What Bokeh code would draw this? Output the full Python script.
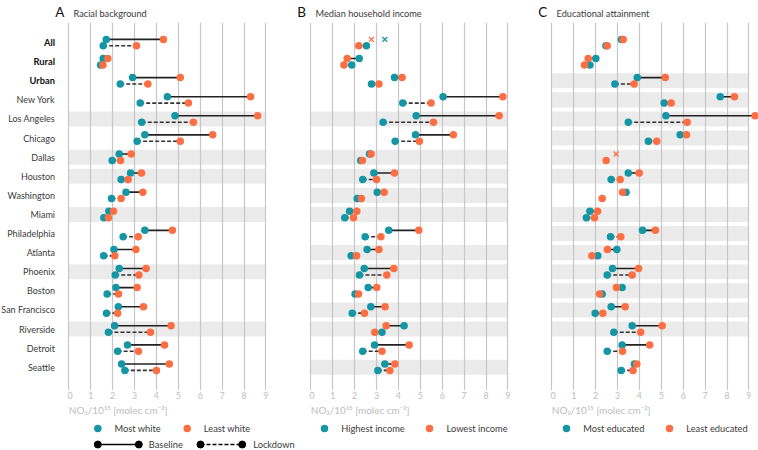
from bokeh.plotting import figure
from bokeh.models import Range1d, FixedTicker
from bokeh.layouts import column, row
from bokeh.embed import file_html
from bokeh.resources import INLINE
from bokeh.core.properties import value

nan = float("nan")

groups = ["All", "Rural", "Urban", "New York", "Los Angeles", "Chicago", "Dallas",
          "Houston", "Washington", "Miami", "Philadelphia", "Atlanta", "Phoenix",
          "Boston", "San Francisco", "Riverside", "Detroit", "Seattle"]
bold_groups = ["All", "Rural", "Urban"]

panel_letters = ["A", "B", "C"]
panel_titles = ["Racial background", "Median household income", "Educational attainment"]
legend_hi = ["Most white", "Highest income", "Most educated"]
legend_lo = ["Least white", "Lowest income", "Least educated"]
line_legend = ["Baseline", "Lockdown"]
x_ticks = [0, 1, 2, 3, 4, 5, 6, 7, 8, 9]
x_label = "NO\u2082/10\u00b9\u2075 [molec cm\u207b\u00b2]"

# Panel A: racial background (teal = most white, orange = least white)
a_base_hi = [1.71, 1.57, 2.91, 4.50, 4.85, 3.47, 2.30, 2.82, 2.61, 1.83, 3.47, 2.06, 2.30, 2.15, 2.26, 2.09, 2.68, 2.41]
a_base_lo = [4.32, 1.78, 5.09, 8.30, 8.62, 6.57, 2.85, 3.32, 3.38, 2.04, 4.73, 3.06, 3.53, 3.12, 3.41, 4.67, 4.37, 4.59]
a_lock_hi = [1.57, 1.45, 2.35, 3.26, 3.33, 3.12, 1.98, 2.39, 1.95, 1.60, 2.48, 1.59, 2.12, 1.75, 1.72, 1.81, 2.23, 2.56]
a_lock_lo = [3.09, 1.56, 3.61, 5.46, 5.69, 5.09, 2.36, 2.71, 2.39, 1.81, 3.17, 2.10, 3.20, 2.27, 2.23, 3.73, 3.18, 4.00]

# Panel B: median household income (teal = highest, orange = lowest)
b_base_hi = [nan, 2.21, 3.82, 6.04, 4.81, 4.78, 2.68, 2.88, 3.03, 1.77, 3.56, 2.57, 2.44, 2.62, 2.74, 4.26, 2.91, 3.38]
b_base_lo = [nan, 1.66, 4.17, 8.77, 8.60, 6.51, 2.75, 3.82, 3.35, 2.10, 4.93, 3.11, 3.79, 3.01, 3.39, 3.44, 4.49, 3.84]
b_lock_hi = [2.54, 1.87, 2.77, 4.20, 3.30, 3.85, 2.28, 2.37, 2.12, 1.55, 2.48, 1.84, 2.22, 2.02, 1.89, 3.25, 2.37, 3.06]
b_lock_lo = [2.19, 1.51, 3.11, 5.49, 5.60, 4.96, 2.36, 3.00, 2.31, 1.95, 3.20, 2.09, 3.47, 2.18, 2.45, 2.92, 3.25, 3.61]

# Panel C: educational attainment (teal = most educated, orange = least educated)
c_base_hi = [3.18, 2.01, 3.90, 7.69, 5.21, 5.86, nan, 3.49, 3.39, 1.74, 4.14, 2.97, 2.77, 3.21, 2.71, 3.67, 3.21, 3.77]
c_base_lo = [3.26, 1.66, 5.18, 8.34, 9.28, 6.15, nan, 3.99, 3.23, 2.09, 4.73, 2.54, 3.96, 2.95, 3.35, 5.04, 4.47, 3.88]
c_lock_hi = [2.47, 1.74, 2.88, 5.13, 3.49, 4.41, nan, 2.71, nan, 1.58, 2.68, 2.10, 2.53, 2.30, 1.98, 2.83, 2.53, 3.17]
c_lock_lo = [2.53, 1.49, 3.76, 5.45, 6.18, 4.79, 2.48, 3.12, 2.30, 1.95, 3.15, 1.83, 3.67, 2.18, 2.33, 4.06, 3.23, 3.71]

# baseline values shown as crosses
b_cross_group = ["All", "All"]
b_cross_x = [2.77, 3.38]
b_cross_kind = ["lo", "hi"]
c_cross_group = ["Dallas"]
c_cross_x = [2.94]
c_cross_kind = ["lo"]

a_shaded = ["Los Angeles", "Dallas", "Houston", "Miami", "Phoenix", "Riverside"]
b_shaded = ["Los Angeles", "Dallas", "Houston", "Washington", "Miami", "Atlanta", "Phoenix",
            "San Francisco", "Riverside", "Seattle"]
c_shaded = ["Urban", "New York", "Los Angeles", "Chicago", "Dallas", "Houston", "Miami",
            "Philadelphia", "Atlanta", "Phoenix", "Boston", "San Francisco", "Riverside"]

panels = [
    dict(base_hi=a_base_hi, base_lo=a_base_lo, lock_hi=a_lock_hi, lock_lo=a_lock_lo,
         shaded=a_shaded, cross_g=[], cross_x=[], cross_k=[]),
    dict(base_hi=b_base_hi, base_lo=b_base_lo, lock_hi=b_lock_hi, lock_lo=b_lock_lo,
         shaded=b_shaded, cross_g=b_cross_group, cross_x=b_cross_x, cross_k=b_cross_kind),
    dict(base_hi=c_base_hi, base_lo=c_base_lo, lock_hi=c_lock_hi, lock_lo=c_lock_lo,
         shaded=c_shaded, cross_g=c_cross_group, cross_x=c_cross_x, cross_k=c_cross_kind),
]

# ---- style / layout ----
TEAL = "#1596a5"
ORANGE = "#fd6f43"
LINE = "#222222"
GRID = "#c6c6c6"
BAND = "#ebebeb"
TICKC = "#bdbdbd"
TXT = "#3a3a3a"
FONT = "Lato"
S = 21.9                       # px per x unit
FH = 368
XMIN = -0.06
frame_w = [206, 206, 208]
right_borders = [36, 35, 0]
YMIN, YMAX = -18.22, 1.053
OFF = 0.168
TOP_H = 22
BOTTOM = 14
FOOT_H = 46
YLAB_W = 67
TOTAL_W = YLAB_W + sum(frame_w) + sum(right_borders)

zero_px = []
acc = YLAB_W
for k in range(3):
    zero_px.append(acc - XMIN * S)
    acc += frame_w[k] + right_borders[k]


def ypos(name):
    return -groups.index(name)


# ---- header strip with panel titles ----
H = figure(width=TOTAL_W, height=TOP_H, output_backend="svg", toolbar_location=None,
           x_range=Range1d(0, TOTAL_W), y_range=Range1d(0, TOP_H), min_border=0,
           x_axis_location=None, y_axis_location=None, outline_line_color=None)
H.grid.visible = False
H.text(x=[z - 13.5 for z in zero_px], y=[11] * 3, text=panel_letters, text_font=value(FONT),
       text_font_size="13.5px", text_color="#111111", text_baseline="middle")
H.text(x=[z + 4.7 for z in zero_px], y=[9.5] * 3, text=panel_titles, text_font=value(FONT),
       text_font_size="9.2px", text_color=TXT, text_baseline="middle")

# ---- y label column ----
Y = figure(width=YLAB_W, height=FH + BOTTOM, output_backend="svg", toolbar_location=None,
           x_range=Range1d(0, YLAB_W), y_range=Range1d(YMIN, YMAX), min_border=0,
           min_border_bottom=BOTTOM, x_axis_location=None, y_axis_location=None,
           outline_line_color=None)
Y.grid.visible = False
normal = [g for g in groups if g not in bold_groups]
Y.text(x=[54.5] * len(normal), y=[ypos(g) for g in normal], text=normal,
       text_font=value(FONT), text_font_size="9px", text_color=TXT,
       text_align="right", text_baseline="middle")
Y.text(x=[54.5] * len(bold_groups), y=[ypos(g) for g in bold_groups], text=bold_groups,
       text_font=value(FONT), text_font_size="9.3px", text_color="#111111",
       text_font_style="bold", text_align="right", text_baseline="middle")

figs = [Y]
for k, pdata in enumerate(panels):
    br = right_borders[k]
    fw = frame_w[k]
    p = figure(width=fw + br, height=FH + BOTTOM, output_backend="svg",
               toolbar_location=None, x_range=Range1d(XMIN, XMIN + fw / S),
               y_range=Range1d(YMIN, YMAX),
               min_border_left=0, min_border_right=br, min_border_top=0,
               min_border_bottom=BOTTOM, y_axis_location=None,
               outline_line_color=None, background_fill_color="white", border_fill_color="white")

    # shaded rows
    r = p.hbar(y=[ypos(g) for g in pdata["shaded"]], left=0, right=9, height=0.79,
               color=BAND, line_color=None)
    r.level = "image"

    ys_base = [-i + OFF for i in range(len(groups))]
    ys_lock = [-i - OFF for i in range(len(groups))]

    p.segment(x0=pdata["base_hi"], y0=ys_base, x1=pdata["base_lo"], y1=ys_base,
              line_color=LINE, line_width=1.6)
    p.segment(x0=pdata["lock_hi"], y0=ys_lock, x1=pdata["lock_lo"], y1=ys_lock,
              line_color="#333333", line_width=1.6, line_dash="4 2")
    for xs, ys in ((pdata["base_hi"], ys_base), (pdata["lock_hi"], ys_lock)):
        p.scatter(x=xs, y=ys, size=7.5, color=TEAL, line_color=None)
    for xs, ys in ((pdata["base_lo"], ys_base), (pdata["lock_lo"], ys_lock)):
        p.scatter(x=xs, y=ys, size=7.5, color=ORANGE, line_color=None)
    if pdata["cross_x"]:
        cols = [TEAL if kk == "hi" else ORANGE for kk in pdata["cross_k"]]
        p.scatter(x=pdata["cross_x"], y=[ypos(g) + OFF for g in pdata["cross_g"]],
                  marker="x", size=7, line_color=cols, line_width=1.3)

    p.xaxis.ticker = FixedTicker(ticks=x_ticks)
    p.xgrid.ticker = FixedTicker(ticks=x_ticks)
    p.xgrid.grid_line_color = GRID
    p.xgrid.grid_line_width = 1.2
    p.ygrid.grid_line_color = None
    p.xaxis.axis_line_color = None
    p.xaxis.major_tick_line_color = None
    p.xaxis.minor_tick_line_color = None
    p.xaxis.major_tick_out = 0
    p.xaxis.major_tick_in = 0
    p.xaxis.minor_tick_out = 0
    p.xaxis.major_label_text_color = TICKC
    p.xaxis.major_label_text_font = FONT
    p.xaxis.major_label_text_font_size = "8.8px"
    p.xaxis.major_label_standoff = 1
    figs.append(p)

# ---- footer strip: axis labels and legends ----
L = figure(width=TOTAL_W, height=FOOT_H, output_backend="svg", toolbar_location=None,
           x_range=Range1d(0, TOTAL_W), y_range=Range1d(0, FOOT_H), min_border=0,
           x_axis_location=None, y_axis_location=None, outline_line_color=None)
L.grid.visible = False
L.text(x=zero_px, y=[41] * 3, text=[x_label] * 3, text_font=value(FONT),
       text_font_size="10px", text_color=TICKC, text_baseline="middle")
row1_y = 22
row2_y = 6
hi_dot = [97.3, 324.0, 566.0]
hi_txt = [114.0, 340.7, 582.7]
lo_dot = [186.7, 429.0, 669.0]
lo_txt = [203.3, 446.0, 685.7]
L.scatter(x=hi_dot, y=[row1_y] * 3, size=7.5, color=TEAL, line_color=None)
L.scatter(x=lo_dot, y=[row1_y] * 3, size=7.5, color=ORANGE, line_color=None)
L.text(x=hi_txt, y=[row1_y] * 3, text=legend_hi, text_font=value(FONT), text_font_size="9.3px",
       text_baseline="middle", text_color=TXT)
L.text(x=lo_txt, y=[row1_y] * 3, text=legend_lo, text_font=value(FONT), text_font_size="9.3px",
       text_baseline="middle", text_color=TXT)
L.segment(x0=[97.3], y0=[row2_y], x1=[138.3], y1=[row2_y], line_color="black", line_width=1.6)
L.segment(x0=[200.0], y0=[row2_y], x1=[241.7], y1=[row2_y], line_color="black", line_width=1.6,
          line_dash="4 2")
L.scatter(x=[97.3, 138.3, 200.0, 241.7], y=[row2_y] * 4, size=7, color="black")
L.text(x=[148.3, 252.7], y=[row2_y] * 2, text=line_legend, text_font=value(FONT),
       text_font_size="9.3px", text_baseline="middle", text_color=TXT)

layout = column(H, row(*figs), L)
open("out.html", "w").write(file_html(layout, INLINE))
